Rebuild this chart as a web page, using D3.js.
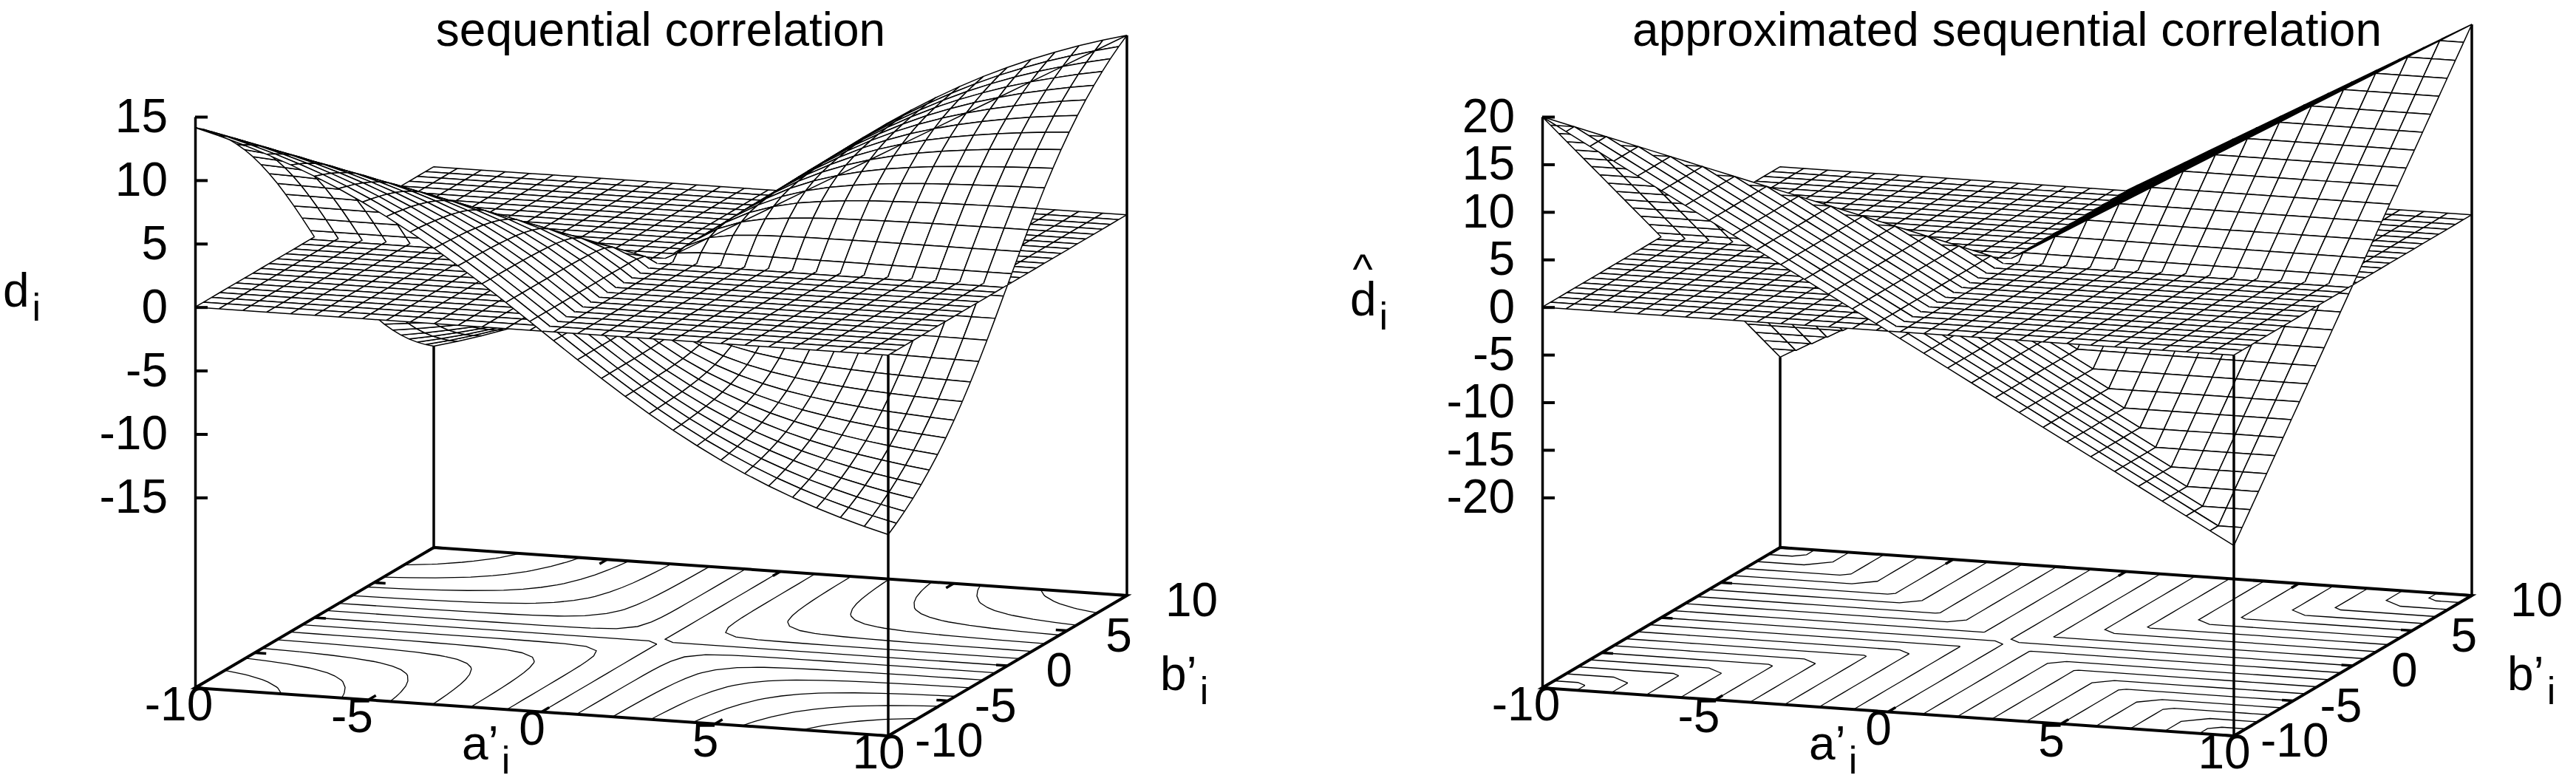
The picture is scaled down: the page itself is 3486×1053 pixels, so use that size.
<!DOCTYPE html>
<html>
<head>
<meta charset="utf-8">
<script src="https://cdn.jsdelivr.net/npm/d3@7"></script>
<style>
  html, body { margin: 0; padding: 0; background: #fff; }
  svg { display: block; }
  text { font-family: "Liberation Sans", Arial, sans-serif; fill: #000; }
</style>
</head>
<body>
<script>
// sample positions along a'i and b'i on the positive side (the negative side mirrors them)
const samplePositions = [0.345, 1.034, 1.724, 2.414, 3.103, 3.793, 4.483, 5.172, 5.862, 6.552, 7.241, 7.931, 8.621, 9.31, 10];

// |d|, triangular (row = larger of |a|,|b|, column = smaller)
const exactRows = [
  [0.49],
  [0.65, 1.46],
  [0.68, 1.77, 2.44],
  [0.68, 1.90, 2.81, 3.41],
  [0.69, 1.96, 3.01, 3.81, 4.39],
  [0.69, 2.00, 3.14, 4.07, 4.80, 5.36],
  [0.69, 2.02, 3.22, 4.25, 5.10, 5.79, 6.34],
  [0.69, 2.03, 3.27, 4.38, 5.32, 6.12, 6.78, 7.32],
  [0.69, 2.04, 3.31, 4.46, 5.49, 6.37, 7.12, 7.76, 8.29],
  [0.69, 2.04, 3.34, 4.53, 5.61, 6.57, 7.40, 8.12, 8.74, 9.27],
  [0.69, 2.05, 3.36, 4.58, 5.71, 6.72, 7.62, 8.42, 9.11, 9.72, 10.24],
  [0.69, 2.05, 3.37, 4.62, 5.78, 6.84, 7.81, 8.67, 9.43, 10.10, 10.70, 11.22],
  [0.69, 2.05, 3.38, 4.65, 5.84, 6.94, 7.95, 8.87, 9.70, 10.43, 11.09, 11.67, 12.19],
  [0.69, 2.06, 3.39, 4.67, 5.89, 7.03, 8.08, 9.04, 9.92, 10.72, 11.43, 12.08, 12.65, 13.17],
  [0.69, 2.06, 3.40, 4.69, 5.93, 7.09, 8.18, 9.19, 10.12, 10.96, 11.73, 12.43, 13.06, 13.63, 14.14]
];

// same for the right surface
const approxRows = [
  [0.69],
  [0.69, 2.07],
  [0.69, 2.07, 3.45],
  [0.69, 2.07, 3.45, 4.83],
  [0.69, 2.07, 3.45, 4.83, 6.21],
  [0.69, 2.07, 3.45, 4.83, 6.21, 7.59],
  [0.69, 2.07, 3.45, 4.83, 6.21, 7.59, 8.97],
  [0.69, 2.07, 3.45, 4.83, 6.21, 7.59, 8.97, 10.34],
  [0.69, 2.07, 3.45, 4.83, 6.21, 7.59, 8.97, 10.34, 11.72],
  [0.69, 2.07, 3.45, 4.83, 6.21, 7.59, 8.97, 10.34, 11.72, 13.10],
  [0.69, 2.07, 3.45, 4.83, 6.21, 7.59, 8.97, 10.34, 11.72, 13.10, 14.48],
  [0.69, 2.07, 3.45, 4.83, 6.21, 7.59, 8.97, 10.34, 11.72, 13.10, 14.48, 15.86],
  [0.69, 2.07, 3.45, 4.83, 6.21, 7.59, 8.97, 10.34, 11.72, 13.10, 14.48, 15.86, 17.24],
  [0.69, 2.07, 3.45, 4.83, 6.21, 7.59, 8.97, 10.34, 11.72, 13.10, 14.48, 15.86, 17.24, 18.62],
  [0.69, 2.07, 3.45, 4.83, 6.21, 7.59, 8.97, 10.34, 11.72, 13.10, 14.48, 15.86, 17.24, 18.62, 20]
];

const baseTicks = [-10, -5, 0, 5, 10];
const exactZTicks = [-15, -10, -5, 0, 5, 10, 15];
const approxZTicks = [-20, -15, -10, -5, 0, 5, 10, 15, 20];
const exactLevels = [-14, -12, -10, -8, -6, -4, -2, 0, 2, 4, 6, 8, 10, 12, 14];
const approxLevels = [-18, -16, -14, -12, -10, -8, -6, -4, -2, 0, 2, 4, 6, 8, 10, 12, 14, 16, 18];

const WIDTH = 3486, HEIGHT = 1053, FONT = 64;

const svg = d3.select("body").append("svg")
  .attr("width", WIDTH)
  .attr("height", HEIGHT);

const line = d3.line();
const coords = d3.reverse(samplePositions).map(d => -d).concat(samplePositions);
const n = coords.length;

// expand a triangular table over the four quadrants, sign follows a*b
function expandGrid(rows) {
  const half = i => (i < n / 2 ? n / 2 - 1 - i : i - n / 2);
  const side = i => (i < n / 2 ? -1 : 1);
  const values = [];
  for (let j = 0; j < n; j++) {
    for (let i = 0; i < n; i++) {
      const hi = half(i), hj = half(j);
      values.push(side(i) * side(j) * rows[Math.max(hi, hj)][Math.min(hi, hj)]);
    }
  }
  return values;
}

// cut a quad at z=0, keep the side given by sign. Returns the fill polygon and the
// parts of the original edges, the cut itself must not get a stroke
function clipQuad(corners, sign) {
  const poly = [], edges = [];
  corners.forEach((P, k) => {
    const Q = corners[(k + 1) % 4];
    const inP = sign * P[2] >= 0, inQ = sign * Q[2] >= 0;
    let cut = null;
    if (inP !== inQ) {
      const t = P[2] / (P[2] - Q[2]);
      cut = [P[0] + t * (Q[0] - P[0]), P[1] + t * (Q[1] - P[1]), 0];
    }
    if (inP) poly.push(P);
    if (cut) poly.push(cut);
    if (inP && inQ) edges.push([P, Q]);
    else if (inP) edges.push([P, cut]);
    else if (inQ) edges.push([cut, Q]);
  });
  return { polys: [poly], edges };
}

function drawPanel(p) {
  const g = svg.append("g").attr("class", "panel");
  const values = expandGrid(p.rows);

  const xFromA = d3.scaleLinear([-10, 10], [p.left, p.left + p.aWidth]);
  const xFromB = d3.scaleLinear([-10, 10], [0, p.bWidth]);
  const yFromA = d3.scaleLinear([-10, 10], [0, 65]);
  const yFromB = d3.scaleLinear([-10, 10], [0, -190]);
  const yFromZ = d3.scaleLinear(p.zDomain, [931, 158]);
  const project = (a, b, z) => [xFromA(a) + xFromB(b), yFromZ(z) + yFromA(a) + yFromB(b)];
  const zBase = p.zDomain[0];
  const at = (i, j) => values[j * n + i];

  // base rectangle
  g.append("path")
    .attr("d", line([[-10, -10], [10, -10], [10, 10], [-10, 10]].map(c => project(c[0], c[1], zBase))) + "Z")
    .attr("fill", "none").attr("stroke", "#000").attr("stroke-width", 4);

  // base ticks, pointing inwards from all four edges
  const tickSegs = [];
  baseTicks.forEach(t => {
    tickSegs.push([project(t, -10, zBase), project(t, -9.37, zBase)]);
    tickSegs.push([project(t, 10, zBase), project(t, 9.37, zBase)]);
    tickSegs.push([project(-10, t, zBase), project(-9.67, t, zBase)]);
    tickSegs.push([project(10, t, zBase), project(9.67, t, zBase)]);
  });
  g.append("g").selectAll("path").data(tickSegs).join("path")
    .attr("d", line).attr("fill", "none").attr("stroke", "#000").attr("stroke-width", 3.5);

  // contours on the base, d3.contours gives closed rings so keep only the part inside the grid
  const gridToData = d3.scaleLinear([0.5, n - 0.5], [-10, 10]);
  const inside = c => c[0] >= 0.5 - 1e-6 && c[0] <= n - 0.5 + 1e-6 && c[1] >= 0.5 - 1e-6 && c[1] <= n - 0.5 + 1e-6;
  const runs = [];
  d3.contours().size([n, n]).thresholds(p.levels)(values).forEach(c => {
    c.coordinates.forEach(poly => poly.forEach(ring => {
      let run = [];
      ring.forEach(pt => {
        if (inside(pt)) {
          run.push(project(gridToData(pt[0]), gridToData(pt[1]), zBase));
        } else {
          if (run.length > 1) runs.push(run);
          run = [];
        }
      });
      if (run.length > 1) runs.push(run);
    }));
  });
  g.append("g").selectAll("path").data(runs).join("path")
    .attr("d", line).attr("fill", "none").attr("stroke", "#000").attr("stroke-width", 1.3);

  // rear verticals go behind the surfaces
  const rear = [
    [project(-10, 10, zBase), project(-10, 10, at(0, n - 1))],
    [project(10, 10, zBase), project(10, 10, at(n - 1, n - 1))]
  ];
  g.append("g").selectAll("path").data(rear).join("path")
    .attr("d", line).attr("fill", "none").attr("stroke", "#000").attr("stroke-width", 3.5);

  // hidden lines: seen from above, so paint what is under z=0 first, then the plane, then what is over it
  const depthOf = pts => d3.mean(pts, c => 15.8 * c[0] - 45.9 * c[1] + p.zDepth * c[2]);
  const below = [], flat = [], above = [];
  for (let j = 0; j < n - 1; j++) {
    for (let i = 0; i < n - 1; i++) {
      const cells = [[i, j], [i + 1, j], [i + 1, j + 1], [i, j + 1]];
      const corners = cells.map(c => [coords[c[0]], coords[c[1]], at(c[0], c[1])]);
      const grounded = corners.map(c => [c[0], c[1], 0]);
      flat.push({ polys: [grounded], edges: d3.pairs(grounded.concat([grounded[0]])), depth: depthOf(grounded) });

      if (i === j && corners.every(c => c[2] >= 0)) {
        // cells on the upper ridge a=b are folded, split them along it and stroke it too
        const [d0, o0, d1, o1] = corners;
        above.push({
          polys: [[d0, o0, d1], [d0, o1, d1]],
          edges: d3.pairs(corners.concat([corners[0]])).concat([[d0, d1]]),
          depth: depthOf(corners)
        });
      } else {
        [[below, -1], [above, 1]].forEach(([list, sign]) => {
          const part = clipQuad(corners, sign);
          if (part.polys[0].length > 2) list.push({ ...part, depth: depthOf(corners) });
        });
      }
    }
  }
  const pieces = [below, flat, above]
    .flatMap(list => list.sort((q, r) => d3.ascending(q.depth, r.depth)));

  // every sub polygon gets the same winding so a fold does not cancel out in the fill
  const polyPath = poly => {
    const pts = poly.map(c => project(c[0], c[1], c[2]));
    if (d3.polygonArea(pts) < 0) pts.reverse();
    return line(pts) + "Z";
  };
  const mesh = g.append("g");
  const pieceG = mesh.selectAll("g").data(pieces).join("g");
  pieceG.append("path")
    .attr("d", d => d.polys.map(polyPath).join(""))
    .attr("fill", "#fff");
  pieceG.append("path")
    .attr("d", d => d.edges.map(e => line(e.map(c => project(c[0], c[1], c[2])))).join(""))
    .attr("fill", "none").attr("stroke", "#000").attr("stroke-width", 1.5);

  // front vertical sits over the surface and stops at the z=0 plane
  g.append("path")
    .attr("d", line([project(10, -10, zBase), project(10, -10, 0)]))
    .attr("fill", "none").attr("stroke", "#000").attr("stroke-width", 3.5);

  // z axis
  const zAxis = d3.axisLeft(yFromZ)
    .tickValues(p.zTicks)
    .tickSizeInner(-17)
    .tickSizeOuter(0)
    .tickPadding(37)
    .tickFormat(d => d);
  const axisG = g.append("g")
    .attr("transform", `translate(${p.left},0)`)
    .call(zAxis);
  axisG.selectAll("path").attr("stroke", "#000").attr("stroke-width", 3.5);
  axisG.selectAll("line").attr("stroke", "#000").attr("stroke-width", 4);
  axisG.selectAll("text").attr("font-size", FONT).attr("font-family", null);

  // a'i tick labels
  g.append("g").selectAll("text").data(baseTicks).join("text")
    .attr("x", d => project(d, -10, zBase)[0] + (d < 0 ? -22 : -13))
    .attr("y", d => project(d, -10, zBase)[1] + 21 + 23)
    .attr("text-anchor", "middle")
    .attr("font-size", FONT)
    .text(d => d);

  // b'i tick labels
  g.append("g").selectAll("text").data(baseTicks).join("text")
    .attr("x", d => project(10, d, zBase)[0] + (d < 0 ? 36 : 52))
    .attr("y", d => project(10, d, zBase)[1] + 5 + 23)
    .attr("text-anchor", "start")
    .attr("font-size", FONT)
    .text(d => d);

  // title
  g.append("text")
    .attr("x", p.titleX).attr("y", 62)
    .attr("text-anchor", "middle")
    .attr("font-size", p.titleSize)
    .text(p.title);

  // axis labels with a subscript i
  const subLabel = (x, y, main) => {
    const t = g.append("text").attr("x", x).attr("y", y).attr("font-size", FONT);
    t.append("tspan").text(main);
    t.append("tspan").attr("font-size", 52).attr("dy", 19).attr("dx", 4).text("i");
  };
  subLabel(p.left + 361, 1028, "a\u2019");
  subLabel(p.left + 1306, 934, "b\u2019");
  subLabel(p.dX, p.dY, "d");
  if (p.hat) {
    g.append("text")
      .attr("x", p.dX + 17).attr("y", p.dY - 43)
      .attr("text-anchor", "middle")
      .attr("font-size", 58)
      .text("^");
  }
}

drawPanel({
  rows: exactRows, zTicks: exactZTicks, levels: exactLevels, zDomain: [-30, 15], zDepth: 3.66,
  left: 264, aWidth: 938, bWidth: 323,
  title: "sequential correlation", titleX: 894, titleSize: 64,
  dX: 4, dY: 415, hat: false
});

drawPanel({
  rows: approxRows, zTicks: approxZTicks, levels: approxLevels, zDomain: [-40, 20], zDepth: 2.74,
  left: 2087, aWidth: 936, bWidth: 322,
  title: "approximated sequential correlation", titleX: 2716, titleSize: 64,
  dX: 1827, dY: 427, hat: true
});
</script>
</body>
</html>
